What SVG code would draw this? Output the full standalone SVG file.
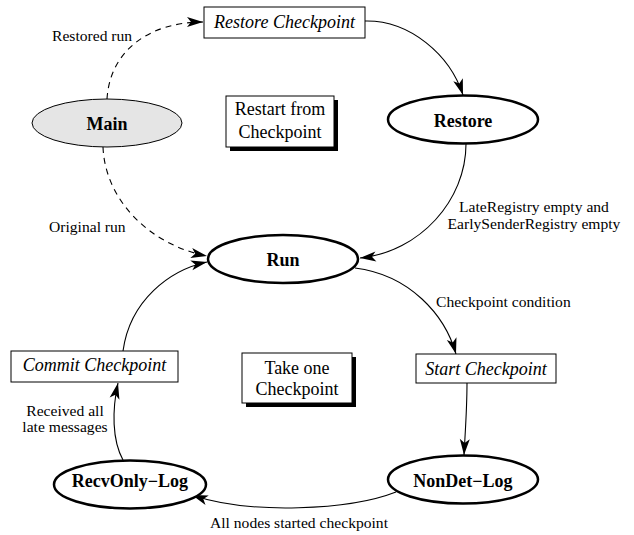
<svg xmlns="http://www.w3.org/2000/svg" width="634" height="535" viewBox="0 0 634 535">
<style>
.t{font-family:"Liberation Serif","Times New Roman",serif;font-size:15.6px;fill:#000}
.l{font-size:18px}
.i{font-style:italic}
.b{font-weight:bold;font-size:18px}
.st{fill:#fff;stroke:#000;stroke-width:2.5}
.bx{fill:#fff;stroke:#000;stroke-width:1}
.sh{fill:#000}
.c{fill:none;stroke:#000;stroke-width:1.1}
.d{stroke-dasharray:6,5}
</style>
<defs>
<marker id="ah" markerUnits="userSpaceOnUse" markerWidth="18" markerHeight="12" refX="16" refY="5" orient="auto" overflow="visible">
<path d="M0,0 L16,5 L0,10 L4,5 z" fill="#000"/>
</marker>
</defs>
<g id="connectors">
<path class="c d" d="M107,99 C110,50 150,22 203,22" marker-end="url(#ah)"/>
<path class="c d" d="M103,147 C105,200 150,245 207,256" marker-end="url(#ah)"/>
<path class="c" d="M123,351 C130,300 170,270 207,262" marker-end="url(#ah)"/>
<path class="c" d="M365,21 C410,20 450,55 463,95" marker-end="url(#ah)"/>
<path class="c" d="M466,144 C466,200 420,252 360,258" marker-end="url(#ah)"/>
<path class="c" d="M355,268 C410,275 445,315 456,354" marker-end="url(#ah)"/>
<path class="c" d="M467,383 C467,410 465,435 464,455" marker-end="url(#ah)"/>
<path class="c" d="M396,492 C350,510 250,515 192,495" marker-end="url(#ah)"/>
<path class="c" d="M123,460 C112,440 112,410 118,383" marker-end="url(#ah)"/>
<text class="t" x="52" y="41">Restored run</text>
<text class="t" x="49" y="232">Original run</text>
<text class="t" x="534" y="212" text-anchor="middle">LateRegistry empty and</text>
<text class="t" x="534" y="229" text-anchor="middle">EarlySenderRegistry empty</text>
<text class="t" x="436" y="307">Checkpoint condition</text>
<text class="t" x="299" y="528" text-anchor="middle">All nodes started checkpoint</text>
<text class="t" x="65" y="416" text-anchor="middle">Received all</text>
<text class="t" x="65" y="432" text-anchor="middle">late messages</text>
</g>
<g id="main">
<ellipse cx="107" cy="123" rx="75" ry="24" fill="#e5e5e5" stroke="#000" stroke-width="1"/>
<text class="t b" x="107" y="130" text-anchor="middle">Main</text>
</g>
<g id="restore-checkpoint">
<rect class="bx" x="204" y="7" width="161" height="31"/>
<text class="t l i" x="284.5" y="28" text-anchor="middle">Restore Checkpoint</text>
</g>
<g id="restart-from-checkpoint">
<rect class="sh" x="230" y="100" width="108" height="51"/>
<rect class="bx" x="226" y="96" width="108" height="51"/>
<text class="t l" x="280" y="115" text-anchor="middle">Restart from</text>
<text class="t l" x="280" y="138" text-anchor="middle">Checkpoint</text>
</g>
<g id="restore">
<ellipse class="st" cx="463" cy="119.5" rx="75" ry="24"/>
<text class="t b" x="463" y="127" text-anchor="middle">Restore</text>
</g>
<g id="run">
<ellipse class="st" cx="283" cy="259" rx="75" ry="24"/>
<text class="t b" x="283" y="266" text-anchor="middle">Run</text>
</g>
<g id="start-checkpoint">
<rect class="bx" x="416" y="354" width="140" height="29"/>
<text class="t l i" x="486" y="375" text-anchor="middle">Start Checkpoint</text>
</g>
<g id="commit-checkpoint">
<rect class="bx" x="11" y="351" width="167" height="31"/>
<text class="t l i" x="94.5" y="371" text-anchor="middle">Commit Checkpoint</text>
</g>
<g id="take-one-checkpoint">
<rect class="sh" x="246" y="357" width="110" height="50"/>
<rect class="bx" x="242" y="353" width="110" height="50"/>
<text class="t l" x="297" y="374" text-anchor="middle">Take one</text>
<text class="t l" x="297" y="395" text-anchor="middle">Checkpoint</text>
</g>
<g id="nondet-log">
<ellipse class="st" cx="463" cy="479.5" rx="75" ry="24"/>
<text class="t b" x="463" y="487" text-anchor="middle">NonDet−Log</text>
</g>
<g id="recvonly-log">
<ellipse class="st" cx="130" cy="484.5" rx="76" ry="24"/>
<text class="t b" x="130" y="487" text-anchor="middle">RecvOnly−Log</text>
</g>
</svg>
